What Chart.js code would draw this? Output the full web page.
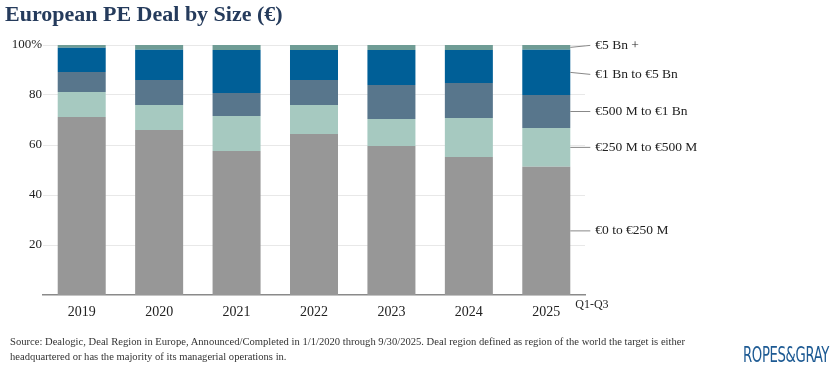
<!DOCTYPE html>
<html>
<head>
<meta charset="utf-8">
<script src="https://cdn.jsdelivr.net/npm/chart.js@4"></script>
<style>
    html, body { margin: 0; padding: 0; background: #fff; }
    #wrap { position: relative; width: 830px; height: 371px; overflow: hidden; }
    #title {
        position: absolute; left: 5px; top: 1px;
        font: bold 22px "Liberation Serif", serif; color: #253b5c;
    }
    #chart { position: absolute; left: 0; top: 0; }
    #source {
        position: absolute; left: 10px; top: 335px; width: 710px;
        font: 10.6px/14.5px "Liberation Serif", serif; color: #333;
    }
    #logo {
        position: absolute; left: 743px; top: 343px;
        font: 21px "DejaVu Sans Condensed", sans-serif; color: #1d5a93;
        transform: scaleX(0.7); transform-origin: left top; letter-spacing: -0.5px;
    }
</style>
</head>
<body>
<div id="wrap">
    <canvas id="chart" width="830" height="371"></canvas>
    <div id="title">European PE Deal by Size (€)</div>
    <div id="source">Source: Dealogic, Deal Region in Europe, Announced/Completed in 1/1/2020 through 9/30/2025. Deal region defined as region of the world the target is either<br>headquartered or has the majority of its managerial operations in.</div>
    <div id="logo">ROPES&amp;GRAY</div>
</div>
<script>
    // --- data (share of deals, %) ---
    var years = ['2019', '2020', '2021', '2022', '2023', '2024', '2025'];
    var seriesNames = ['€0 to €250 M', '€250 M to €500 M', '€500 M to €1 Bn', '€1 Bn to €5 Bn', '€5 Bn +'];
    var small = [71.2, 66.0, 57.6, 64.4, 59.6, 55.2, 51.3];
    var midLow = [10.0, 10.0, 14.0, 11.6, 10.8, 15.6, 15.5];
    var midHigh = [8.0, 10.0, 9.2, 10.0, 13.6, 14.0, 13.2];
    var large = [9.7, 12.1, 17.2, 12.0, 14.0, 13.2, 18.1];
    var mega = [1.1, 1.9, 2.0, 2.0, 2.0, 2.0, 1.9];
    var yTicks = [20, 40, 60, 80, 100];

    var colors = ['#979797', '#a6c9c0', '#58768c', '#005f97', '#6f9c95'];
    var FONT = '"Liberation Serif", serif';

    // labels + leader lines to the right of the last bar
    var sideLabels = {
        id: 'sideLabels',
        afterDatasetsDraw: function (chart) {
            var ctx = chart.ctx;
            var last = years.length - 1;
            ctx.save();
            ctx.font = '13.5px ' + FONT;
            ctx.fillStyle = '#222';
            ctx.strokeStyle = '#888';
            ctx.lineWidth = 1;
            ctx.textBaseline = 'middle';
            var nudge = [0, 0, 0, 2, -2];
            chart.data.datasets.forEach(function (ds, i) {
                var bar = chart.getDatasetMeta(i).data[last];
                var x0 = bar.x + bar.width / 2;
                var yc = (bar.y + bar.base) / 2;
                var ly = yc + nudge[i];
                ctx.beginPath();
                ctx.moveTo(x0, yc);
                ctx.lineTo(x0 + 20, ly);
                ctx.stroke();
                ctx.fillText(ds.label, x0 + 25, ly);
            });
            // period note next to the last category
            var xs = chart.scales.x;
            ctx.font = '12px ' + FONT;
            ctx.fillText('Q1-Q3', xs.getPixelForValue(last) + 29, 305);
            ctx.restore();
        }
    };

    var allSeries = [small, midLow, midHigh, large, mega];

    new Chart(document.getElementById('chart').getContext('2d'), {
        type: 'bar',
        data: {
            labels: years,
            datasets: allSeries.map(function (vals, i) {
                return {
                    label: seriesNames[i],
                    data: vals,
                    backgroundColor: colors[i],
                    borderWidth: 0,
                    barPercentage: 0.62,
                    categoryPercentage: 1
                };
            })
        },
        options: {
            responsive: false,
            animation: false,
            layout: { padding: { top: 45, right: 245, left: 0, bottom: 0 } },
            plugins: {
                legend: { display: false },
                title: { display: false },
                tooltip: { enabled: false }
            },
            scales: {
                x: {
                    stacked: true,
                    grid: { display: false },
                    border: { display: true, color: '#8a8a8a', width: 1.5 },
                    ticks: { color: '#222', font: { family: FONT, size: 14 }, padding: 1 },
                    afterFit: function (s) { s.height = 76; }
                },
                y: {
                    stacked: true,
                    min: 0,
                    max: 100,
                    afterBuildTicks: function (s) {
                        s.ticks = yTicks.map(function (v) { return { value: v }; });
                    },
                    grid: { color: '#e8e8e8', drawTicks: false, lineWidth: 1 },
                    border: { display: false },
                    ticks: {
                        color: '#222',
                        padding: 1,
                        font: { family: FONT, size: 13 },
                        callback: function (v) { return v === 100 ? '100%' : v; }
                    },
                    afterFit: function (s) { s.width = 43; }
                }
            }
        },
        plugins: [sideLabels]
    });
</script>
</body>
</html>
